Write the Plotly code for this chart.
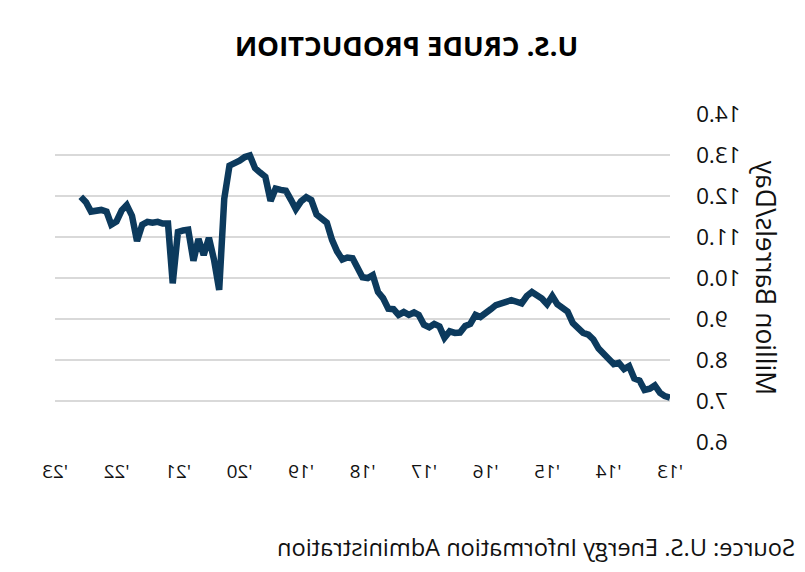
import plotly.graph_objects as go
import pandas as pd

# Monthly U.S. crude production, million barrels/day, Jan 2013 - Aug 2022
values = [
    # 2013
    7.08, 7.12, 7.20, 7.38, 7.30, 7.27, 7.50, 7.55, 7.85, 7.78, 7.93, 7.90,
    # 2014
    8.03, 8.16, 8.28, 8.50, 8.62, 8.66, 8.78, 8.90, 9.18, 9.28, 9.36, 9.56,
    # 2015
    9.36, 9.50, 9.58, 9.66, 9.56, 9.38, 9.42, 9.46, 9.42, 9.40, 9.34, 9.24,
    # 2016
    9.14, 9.05, 9.10, 8.88, 8.83, 8.67, 8.66, 8.70, 8.54, 8.82, 8.88, 8.80,
    # 2017
    8.86, 9.10, 9.16, 9.10, 9.17, 9.10, 9.24, 9.25, 9.51, 9.66, 10.07, 10.00,
    # 2018
    10.02, 10.28, 10.48, 10.50, 10.45, 10.65, 10.93, 11.35, 11.45, 11.55, 11.90, 11.97,
    # 2019
    11.87, 11.68, 11.90, 12.13, 12.15, 12.18, 11.88, 12.47, 12.57, 12.68, 12.99, 12.95,
    # 2020
    12.86, 12.80, 12.74, 11.93, 9.71, 10.45, 10.98, 10.56, 10.95, 10.42, 11.18, 11.16,
    # 2021
    11.12, 9.87, 11.33, 11.33, 11.37, 11.35, 11.37, 11.30, 10.90, 11.52, 11.78, 11.65,
    # 2022
    11.38, 11.30, 11.62, 11.66, 11.62, 11.62, 11.85, 11.98,
]
dates = pd.date_range("2013-01-01", periods=len(values), freq="MS")

title_text = "U.S. CRUDE PRODUCTION"
y_title = "Million Barrels/Day"
source_text = "Source: U.S. Energy Information Administration"
y_ticks = [6, 7, 8, 9, 10, 11, 12, 13, 14]
x_ticks = pd.date_range("2013-01-01", "2023-01-01", freq="YS")
x_labels = ["'" + d.strftime("%y") for d in x_ticks]

fig = go.Figure()
fig.add_trace(go.Scatter(
    x=dates, y=values, mode="lines",
    line=dict(color="#0c3a5d", width=6.5),
    hoverinfo="skip",
))

font_family = "Open Sans, DejaVu Sans, sans-serif"
fig.update_layout(
    width=805, height=572,
    margin=dict(l=135, r=55, t=114, b=130),
    paper_bgcolor="white", plot_bgcolor="white",
    showlegend=False,
    font=dict(family=font_family, color="#111111", size=19),
    title=dict(text="<b>" + title_text + "</b>", x=0.495, xanchor="center",
               y=1 - 46 / 572, yanchor="middle",
               font=dict(size=27.5, color="#000000", family=font_family)),
    xaxis=dict(
        type="date",
        range=["2013-01-01", "2023-01-01"],
        tickvals=list(x_ticks), ticktext=x_labels,
        showgrid=False, zeroline=False, showline=False,
        ticks="", ticklabelstandoff=16,
        tickfont=dict(size=19),
    ),
    yaxis=dict(
        range=[6, 14],
        tickvals=y_ticks, tickformat=".1f",
        showgrid=True, gridcolor="#d9d9d9", gridwidth=2,
        zeroline=False, showline=False, ticks="",
        ticklabelstandoff=25,
        tickfont=dict(size=22.5),
    ),
    annotations=[
        dict(
            text=source_text, xref="paper", yref="paper",
            x=-127 / 615, y=-105 / 328, xanchor="left", yanchor="middle",
            showarrow=False, font=dict(size=23.6, color="#111111"),
        ),
        dict(
            text=y_title, xref="paper", yref="paper",
            x=-96 / 615, y=0.5, xanchor="center", yanchor="middle",
            textangle=-90, showarrow=False,
            font=dict(size=26.5, color="#111111"),
        ),
    ],
)

fig.write_html(
    "out.html",
    post_script="var gd=document.getElementById('{plot_id}');gd.style.transform='scaleX(-1)';",
)
